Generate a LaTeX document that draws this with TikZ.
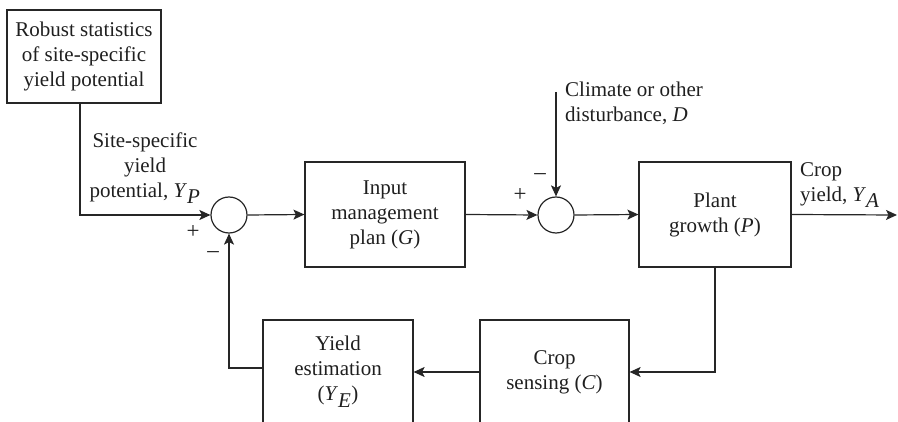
\documentclass[tikz,border=0pt]{standalone}
\usepackage{fontspec}
\setmainfont{Liberation Serif}
\usetikzlibrary{arrows.meta}
\newcommand{\vr}[1]{\textit{#1}}
\begin{document}
\begin{tikzpicture}[x=1pt,y=-1pt,
  every node/.style={font=\fontsize{21}{25}\selectfont, text=black!88},
  blk/.style={draw=black!85, line width=1.2pt, inner sep=0pt, align=center},
  sumc/.style={draw=black!85, circle, line width=1.2pt, minimum size=36pt, inner sep=0pt},
  conn/.style={line width=1.2pt, draw=black!85},
  arr/.style={conn, -{Stealth[length=11pt,width=10pt,inset=2.5pt]}},
  lbl/.style={align=center, inner sep=0pt},
  sgn/.style={inner sep=0pt, font=\fontsize{23}{23}\selectfont}]
\useasboundingbox (0,0) rectangle (898,422);
\clip (0,0) rectangle (898,422);
% blocks
\node[blk, minimum width=154pt, minimum height=93pt] (robust) at (84,56.5) {Robust statistics\\of site-specific\\yield potential};
\node[blk, minimum width=160pt, minimum height=105pt] (input) at (385,214.5) {Input\\management\\plan (\vr{G})};
\node[blk, minimum width=152pt, minimum height=105pt] (plant) at (715,214.5) {Plant\\growth (\vr{P})};
\node[blk, minimum width=150pt, minimum height=104pt] (ye) at (338,372) {Yield\\estimation\\(\vr{Y}$_{\vr{E}}$)};
\node[blk, minimum width=149pt, minimum height=104pt] (cs) at (554.5,372) {Crop\\sensing (\vr{C})};
% summing junctions
\node[sumc] (s1) at (229,215) {};
\node[sumc] (s2) at (556,215) {};
% free ends
\coordinate (dtop) at (556,92);
\coordinate (out) at (897,215);
% labels
\node[lbl] (lyp) at (145,168) {Site-specific\\yield\\potential, \vr{Y}$_{\vr{P}}$};
\node[lbl, align=left, anchor=west] (ld) at (565,103) {Climate or other\\disturbance, \vr{D}};
\node[lbl, align=left, anchor=west] (lya) at (800,185) {Crop\\yield, \vr{Y}$_{\vr{A}}$};
\node[sgn] (p1) at (193,232) {+};
\node[sgn] (m1) at (213,255) {–};
\node[sgn] (p2) at (520,195) {+};
\node[sgn] (m2) at (540,177) {–};
% connectors
\draw[arr] ([xshift=-4pt]robust.south) |- (s1.west);
\draw[arr] (s1.east) -- (input.west);
\draw[arr] (input.east) -- (s2.west);
\draw[arr] (dtop) -- (s2.north);
\draw[arr] (s2.east) -- (plant.west);
\draw[arr] (plant.east) -- (out);
\draw[arr] (plant.south) |- (cs.east);
\draw[arr] (cs.west) -- (ye.east);
\draw[arr] ([yshift=4pt]ye.west) -| (s1.south);
\end{tikzpicture}
\end{document}
